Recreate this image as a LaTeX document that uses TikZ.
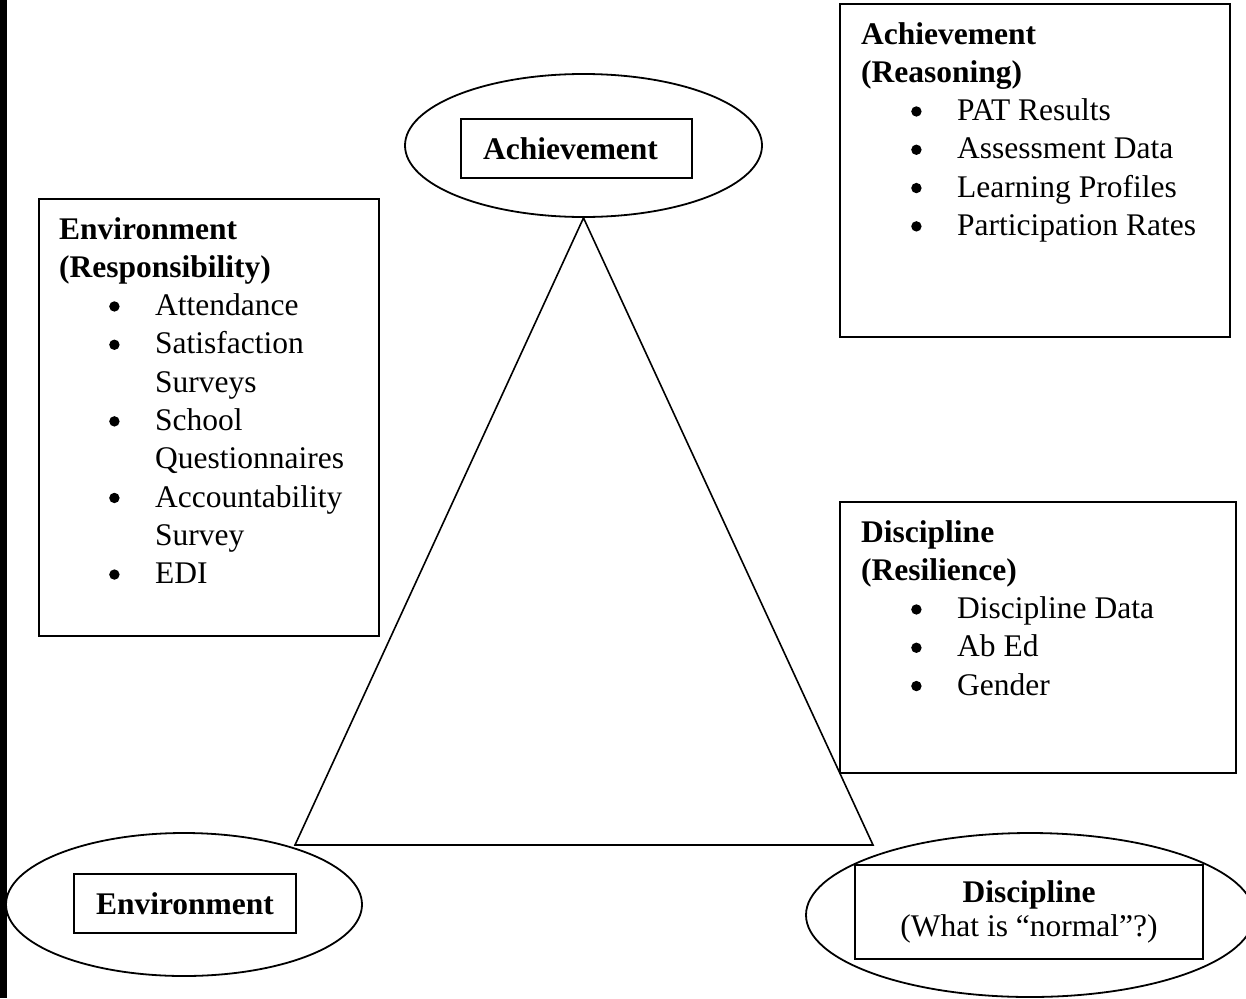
\documentclass[tikz,border=0pt]{standalone}
\usepackage{fontspec}
\setmainfont{Liberation Serif}
\usetikzlibrary{positioning,shapes.geometric}

\newcommand{\listdot}{\raisebox{4pt}{\tikz\fill[black] (0,0) circle (5.2pt);}}
\newcommand{\listitem}[1]{\hspace*{50pt}\makebox[46pt][l]{\listdot}#1}
\newcommand{\listcont}[1]{\hspace*{96pt}#1}

\begin{document}
\begin{tikzpicture}[
        x=1pt, y=-1pt,
        font=\fontsize{31.5}{38.3}\selectfont,
        outline/.style={draw=black, line width=1.8pt},
        bubble/.style={ellipse, outline, inner sep=0pt},
        tag/.style={rectangle, outline, align=center, font=\fontsize{31.5}{34}\selectfont},
        listbox/.style={rectangle, outline, anchor=north west, inner sep=0pt},
        listtext/.style={anchor=north west, align=left, inner sep=0pt}
    ]
    \useasboundingbox (0,0) rectangle (1246,998);

    % scanned edge
    \fill[black] (0,0) rectangle (7,998);

    % Bubbles
    \node (achbubble) at (583.5,145.5) [bubble, minimum width=357, minimum height=143] {};
    \node (envbubble) at (184,904.5) [bubble, minimum width=356, minimum height=143] {};
    \node (discbubble) at (1030,915) [bubble, minimum width=448, minimum height=164] {};

    \node (achtag) at (576.5,148.5) [tag, minimum width=231, minimum height=59] {\textbf{Achievement}\hspace*{12pt}};
    \node (envtag) at (185,903.5) [tag, minimum width=222, minimum height=59] {\textbf{Environment}};
    \node (disctag) at (1029,912) [tag, minimum width=348, minimum height=94] {\textbf{Discipline}\\(What is “normal”?)};

    % Triangle
    \coordinate (envcorner) at (295,845);
    \coordinate (disccorner) at (873,845);
    \draw[black, line width=1.6pt, line join=miter] (achbubble.south) -- (envcorner) -- (disccorner) -- cycle;

    % Lists
    \node (achbox) at (839,3) [listbox, minimum width=390, minimum height=333] {};
    \node (achlist) at (861,22) [listtext] {\textbf{Achievement}\\\textbf{(Reasoning)}\\
        \listitem{PAT Results}\\\listitem{Assessment Data}\\\listitem{Learning Profiles}\\\listitem{Participation Rates}};

    \node (envbox) at (38,198) [listbox, minimum width=340, minimum height=437] {};
    \node (envlist) at (59,217) [listtext] {\textbf{Environment}\\\textbf{(Responsibility)}\\
        \listitem{Attendance}\\\listitem{Satisfaction}\\\listcont{Surveys}\\\listitem{School}\\\listcont{Questionnaires}\\
        \listitem{Accountability}\\\listcont{Survey}\\\listitem{EDI}};

    \node (discbox) at (839,501) [listbox, minimum width=396, minimum height=271] {};
    \node (disclist) at (861,520) [listtext] {\textbf{Discipline}\\\textbf{(Resilience)}\\
        \listitem{Discipline Data}\\\listitem{Ab Ed}\\\listitem{Gender}};
\end{tikzpicture}
\end{document}
